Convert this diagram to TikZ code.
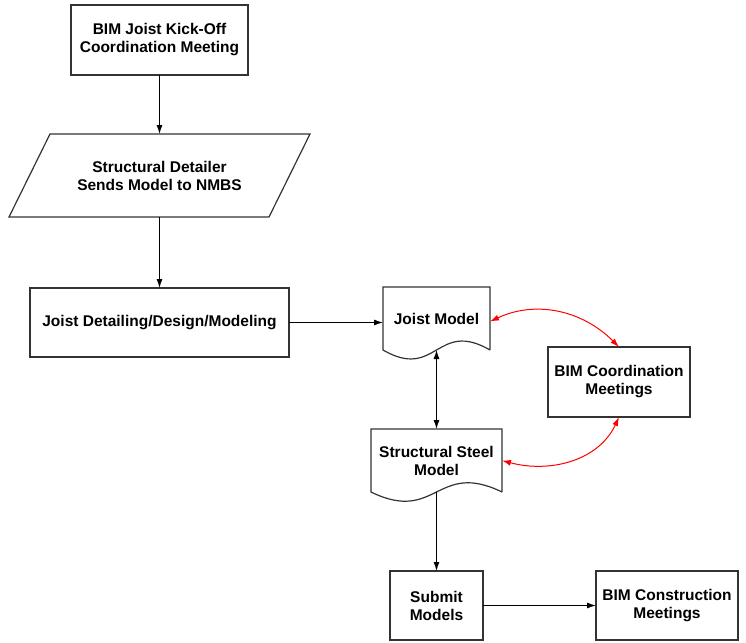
\documentclass[tikz,border=0pt]{standalone}
\usepackage{fontspec}
\setmainfont{Liberation Sans}
\usetikzlibrary{arrows.meta}
\usetikzlibrary{positioning}

\begin{document}
\begin{tikzpicture}[
        font=\fontsize{15.5}{18}\selectfont\bfseries,
        outer sep=0pt,
        box/.style={rectangle, draw=black!80, line width=1.2pt, align=center},
        docbox/.style={rectangle, align=center},
        docline/.style={draw=black!80, line width=1.2pt, line join=miter},
        >={Latex[length=9pt,width=6pt]},
        flow/.style={->, line width=1pt},
        meet/.style={<->, red, line width=1pt}
    ]
        \useasboundingbox (0,0) rectangle (746pt,-642pt);
        \node[box, minimum width=177pt, minimum height=70pt] (kickoff) at (159.5pt,-40pt) {BIM Joist Kick-Off\\Coordination Meeting};
        \node[docbox, minimum width=260pt, minimum height=83pt, below = 59pt of kickoff] (detailer) {Structural Detailer\\Sends Model to NMBS};
        \node[box, minimum width=259pt, minimum height=69pt, below = 71pt of detailer] (design) {Joist Detailing/Design/Modeling};
        \node[docbox, minimum width=107pt, minimum height=63pt, right = 94pt of design, yshift=4pt] (jmodel) {Joist Model};
        \node[docbox, minimum width=131pt, minimum height=63pt, below = 79pt of jmodel] (ssmodel) {Structural Steel\\Model};
        \node[box, minimum width=142pt, minimum height=70pt, below right = -3pt and 58pt of jmodel.south east] (coord) {BIM Coordination\\Meetings};
        \node[box, minimum width=93pt, minimum height=69pt, below = 79pt of ssmodel] (submit) {Submit\\Models};
        \node[box, minimum width=142pt, minimum height=69pt, right = 113pt of submit] (construct) {BIM Construction\\Meetings};
        % slanted input box
        \draw[docline] ([xshift=20.5pt]detailer.north west) -- ([xshift=20.5pt]detailer.north east) -- ([xshift=-20.5pt]detailer.south east) -- ([xshift=-20.5pt]detailer.south west) -- cycle;
        % document outlines with wavy bottom
        \draw[docline] (jmodel.south east) -- (jmodel.north east) -- (jmodel.north west) -- (jmodel.south west) .. controls +(53.5pt,-31pt) and +(-53.5pt,31pt) .. (jmodel.south east);
        \draw[docline] (ssmodel.south east) -- (ssmodel.north east) -- (ssmodel.north west) -- (ssmodel.south west) .. controls +(65.5pt,-32pt) and +(-65.5pt,32pt) .. (ssmodel.south east);
        % flow
        \draw[flow] (kickoff) -- (detailer);
        \draw[flow] (detailer) -- (design);
        \draw[flow] (design.east) -- (design.east -| jmodel.west);
        \draw[flow, <->] (jmodel.south) -- (ssmodel.north);
        \draw[flow] (ssmodel.south) -- (submit.north);
        \draw[flow] (submit) -- (construct);
        % coordination loop
        \draw[meet] ([yshift=-3pt]jmodel.east) to[out=25, in=135] (coord.north);
        \draw[meet] (coord.south) to[out=-115, in=-15] (ssmodel.east);
    \end{tikzpicture}
\end{document}
